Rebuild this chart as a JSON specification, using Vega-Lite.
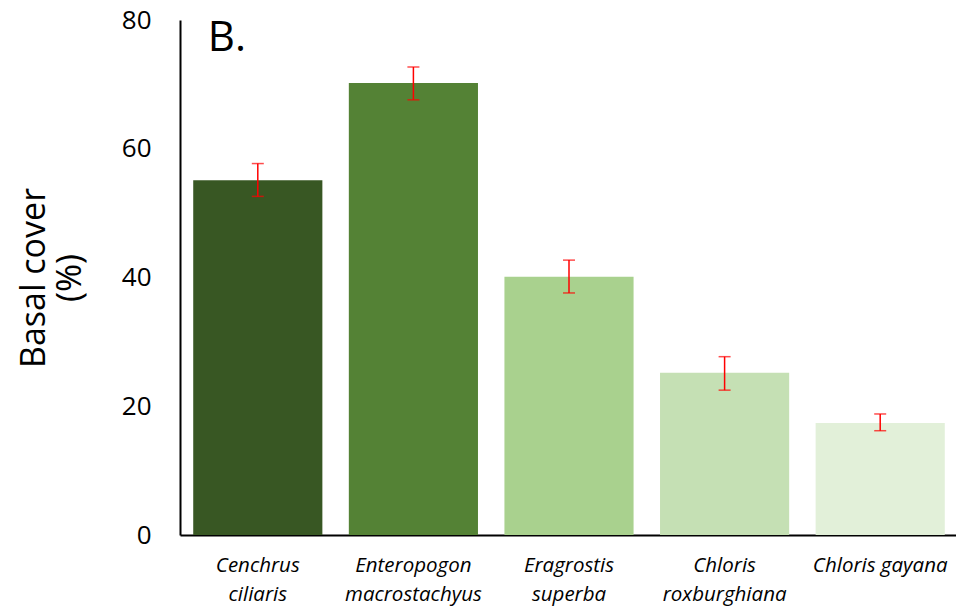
{
  "$schema": "https://vega.github.io/schema/vega-lite/v6.json",
  "width": 778,
  "height": 515,
  "autosize": "none",
  "padding": {"left": 180, "top": 20, "right": 0, "bottom": 75},
  "background": "white",
  "config": {
    "view": {"stroke": null},
    "font": "Lato"
  },
  "data": {
    "values": [
      {"species": "Cenchrus ciliaris", "cover": 55.1, "low": 52.6, "high": 57.7, "color": "#385723"},
      {"species": "Enteropogon macrostachyus", "cover": 70.2, "low": 67.6, "high": 72.7, "color": "#548235"},
      {"species": "Eragrostis superba", "cover": 40.1, "low": 37.6, "high": 42.7, "color": "#A9D18E"},
      {"species": "Chloris roxburghiana", "cover": 25.2, "low": 22.5, "high": 27.7, "color": "#C5E0B4"},
      {"species": "Chloris gayana", "cover": 17.4, "low": 16.2, "high": 18.8, "color": "#E2F0D9"}
    ]
  },
  "encoding": {
    "x": {
      "field": "species",
      "type": "nominal",
      "sort": null,
      "scale": {"paddingInner": 0.17, "paddingOuter": 0.085},
      "axis": {
        "title": null,
        "labelAngle": 0,
        "labelFontSize": 20.5,
        "labelFontStyle": "italic",
        "labelFont": "Open Sans",
        "labelColor": "black",
        "labelPadding": 20,
        "labelLineHeight": 29,
        "labelBaseline": "top",
        "ticks": false,
        "domainColor": "black",
        "domainWidth": 2,
        "labelExpr": "datum.value == 'Chloris gayana' ? datum.value : split(datum.value, ' ')"
      }
    }
  },
  "layer": [
    {
      "mark": {"type": "bar"},
      "encoding": {
        "y": {
          "field": "cover",
          "type": "quantitative",
          "scale": {"domain": [0, 80], "nice": false},
          "axis": {
            "values": [0, 20, 40, 60, 80],
            "grid": false,
            "ticks": false,
            "domainColor": "black",
            "domainWidth": 2,
            "labelFontSize": 26,
            "labelFont": "Open Sans",
            "labelColor": "black",
            "labelPadding": 29,
            "title": ["Basal cover", "(%)"],
            "titleFontSize": 34,
            "titleFont": "Open Sans",
            "titleFontWeight": "normal",
            "titleColor": "black",
            "titleLineHeight": 36,
            "titlePadding": 34
          }
        },
        "color": {"field": "color", "type": "nominal", "scale": null}
      }
    },
    {
      "mark": {"type": "rule", "color": "#FF0000", "strokeWidth": 1.5},
      "encoding": {
        "y": {"field": "low", "type": "quantitative"},
        "y2": {"field": "high"}
      }
    },
    {
      "mark": {"type": "tick", "color": "#FF0000", "thickness": 1.5, "size": 12, "orient": "horizontal"},
      "encoding": {
        "y": {"field": "low", "type": "quantitative"}
      }
    },
    {
      "mark": {"type": "tick", "color": "#FF0000", "thickness": 1.5, "size": 12, "orient": "horizontal"},
      "encoding": {
        "y": {"field": "high", "type": "quantitative"}
      }
    },
    {
      "data": {"values": [{"label": "B."}]},
      "mark": {"type": "text", "align": "left", "baseline": "alphabetic", "fontSize": 42, "font": "Open Sans", "color": "black", "dx": -50, "dy": 31},
      "encoding": {
        "x": {"datum": "Cenchrus ciliaris"},
        "y": {"datum": 80},
        "text": {"field": "label"}
      }
    }
  ]
}
